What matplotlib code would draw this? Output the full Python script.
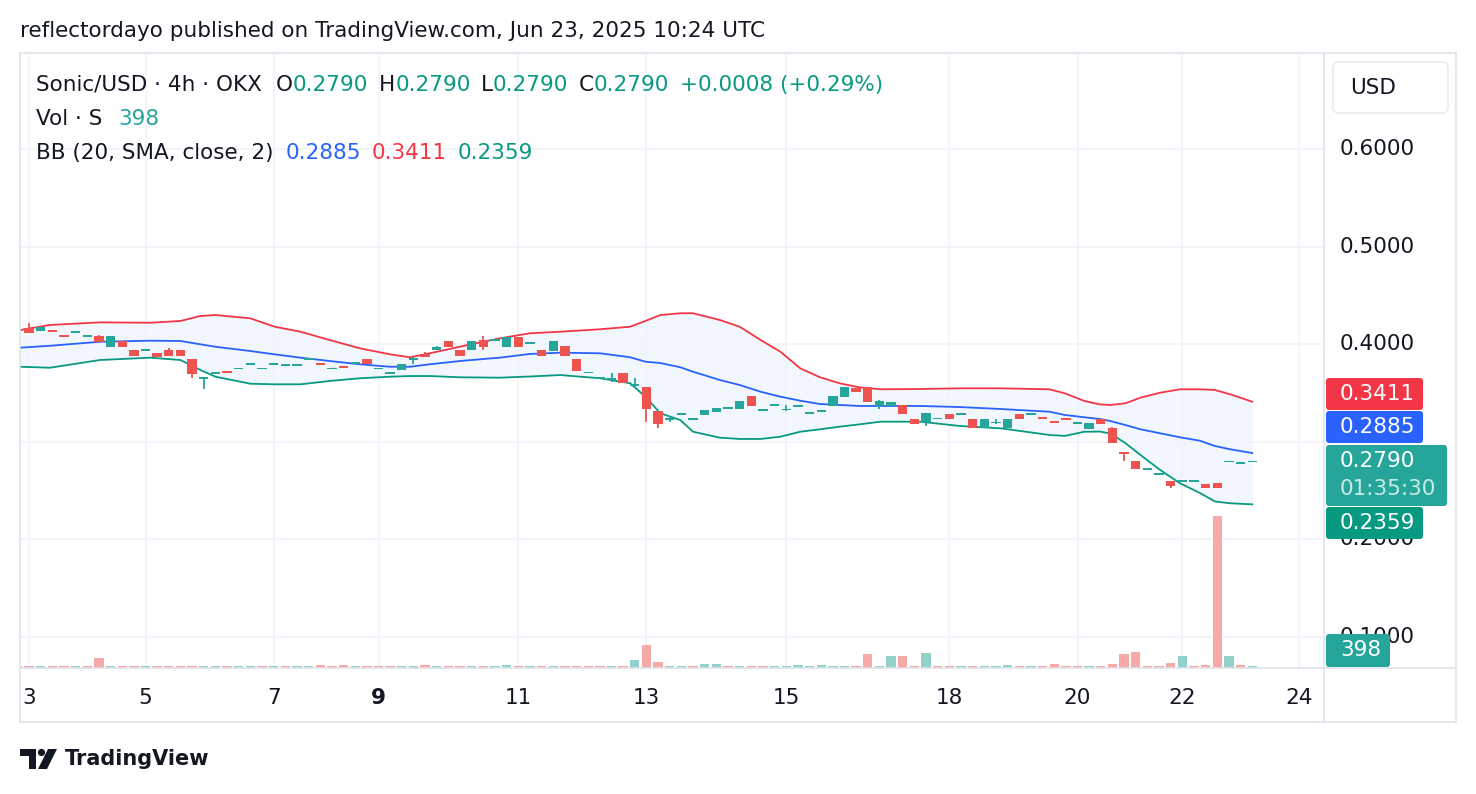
import matplotlib.pyplot as plt
from matplotlib.patches import FancyBboxPatch, Polygon, Circle
import numpy as np

# ---------------- data (Sonic/USD 4h, OKX) ----------------
opens = [0.4140, 0.4169, 0.4138, 0.4145, 0.4094, 0.4117, 0.4077, 0.4084, 0.3974, 0.4035,
         0.3940, 0.3933, 0.3909, 0.3943, 0.3943, 0.3848, 0.3646, 0.3694, 0.3725, 0.3742,
         0.3786, 0.3742, 0.3786, 0.3779, 0.3779, 0.3841, 0.3807, 0.3742, 0.3773, 0.3800,
         0.3848, 0.3742, 0.3697, 0.3738, 0.3841, 0.3899, 0.3937, 0.4032, 0.3940, 0.3937,
         0.4043, 0.4035, 0.3974, 0.4070, 0.4005, 0.3940, 0.3933, 0.3981, 0.3848, 0.3701,
         0.3646, 0.3633, 0.3707, 0.3571, 0.3564, 0.3315, 0.3226, 0.3279, 0.3226, 0.3276,
         0.3308, 0.3338, 0.3336, 0.3469, 0.3318, 0.3370, 0.3322, 0.3359, 0.3287, 0.3301,
         0.3369, 0.3461, 0.3547, 0.3558, 0.3369, 0.3366, 0.3376, 0.3233, 0.3205, 0.3230,
         0.3281, 0.3277, 0.3233, 0.3138, 0.3189, 0.3138, 0.3284, 0.3277, 0.3250, 0.3212,
         0.3240, 0.3185, 0.3130, 0.3233, 0.3141, 0.2892, 0.2802, 0.2714, 0.2659, 0.2597,
         0.2590, 0.2590, 0.2567, 0.2577, 0.2788, 0.2775, 0.2790]
highs = [0.4145, 0.4214, 0.4173, 0.4145, 0.4094, 0.4135, 0.4094, 0.4097, 0.4084, 0.4035,
         0.3940, 0.3950, 0.3909, 0.3961, 0.3943, 0.3848, 0.3663, 0.3711, 0.3725, 0.3759,
         0.3804, 0.3759, 0.3804, 0.3793, 0.3793, 0.3855, 0.3807, 0.3756, 0.3773, 0.3810,
         0.3848, 0.3756, 0.3711, 0.3793, 0.3871, 0.3920, 0.3981, 0.4032, 0.3940, 0.4032,
         0.4084, 0.4050, 0.4070, 0.4070, 0.4019, 0.3940, 0.4032, 0.3981, 0.3848, 0.3715,
         0.3660, 0.3707, 0.3707, 0.3650, 0.3564, 0.3315, 0.3267, 0.3294, 0.3240, 0.3325,
         0.3346, 0.3356, 0.3417, 0.3469, 0.3336, 0.3387, 0.3376, 0.3376, 0.3305, 0.3325,
         0.3469, 0.3558, 0.3547, 0.3558, 0.3428, 0.3404, 0.3376, 0.3233, 0.3291, 0.3246,
         0.3281, 0.3291, 0.3233, 0.3233, 0.3233, 0.3233, 0.3284, 0.3294, 0.3250, 0.3212,
         0.3240, 0.3202, 0.3192, 0.3233, 0.3154, 0.2892, 0.2802, 0.2731, 0.2676, 0.2597,
         0.2607, 0.2607, 0.2567, 0.2577, 0.2802, 0.2782, 0.2790]
lows = [0.4140, 0.4117, 0.4138, 0.4128, 0.4077, 0.4117, 0.4077, 0.4019, 0.3974, 0.3974,
        0.3882, 0.3933, 0.3871, 0.3882, 0.3882, 0.3656, 0.3543, 0.3694, 0.3707, 0.3742,
        0.3786, 0.3742, 0.3786, 0.3779, 0.3779, 0.3841, 0.3789, 0.3742, 0.3759, 0.3800,
        0.3793, 0.3742, 0.3697, 0.3738, 0.3800, 0.3868, 0.3937, 0.3974, 0.3882, 0.3937,
        0.3940, 0.4035, 0.3974, 0.3974, 0.4005, 0.3882, 0.3933, 0.3882, 0.3728, 0.3701,
        0.3646, 0.3615, 0.3605, 0.3547, 0.3205, 0.3144, 0.3199, 0.3279, 0.3226, 0.3276,
        0.3308, 0.3338, 0.3336, 0.3366, 0.3318, 0.3370, 0.3315, 0.3359, 0.3287, 0.3301,
        0.3369, 0.3461, 0.3513, 0.3410, 0.3332, 0.3366, 0.3281, 0.3185, 0.3164, 0.3230,
        0.3230, 0.3277, 0.3144, 0.3138, 0.3181, 0.3138, 0.3230, 0.3277, 0.3233, 0.3195,
        0.3223, 0.3185, 0.3130, 0.3181, 0.2990, 0.2802, 0.2723, 0.2714, 0.2659, 0.2522,
        0.2590, 0.2590, 0.2529, 0.2529, 0.2788, 0.2775, 0.2790]
closes = [0.4145, 0.4117, 0.4173, 0.4128, 0.4077, 0.4135, 0.4094, 0.4019, 0.4084, 0.3974,
          0.3882, 0.3950, 0.3871, 0.3882, 0.3882, 0.3697, 0.3663, 0.3711, 0.3707, 0.3759,
          0.3804, 0.3759, 0.3804, 0.3793, 0.3793, 0.3855, 0.3789, 0.3756, 0.3759, 0.3810,
          0.3793, 0.3756, 0.3711, 0.3793, 0.3855, 0.3868, 0.3968, 0.3974, 0.3882, 0.4032,
          0.3974, 0.4050, 0.4070, 0.3974, 0.4019, 0.3882, 0.4032, 0.3882, 0.3728, 0.3715,
          0.3660, 0.3646, 0.3605, 0.3588, 0.3335, 0.3181, 0.3243, 0.3294, 0.3240, 0.3325,
          0.3346, 0.3356, 0.3417, 0.3366, 0.3336, 0.3387, 0.3336, 0.3376, 0.3305, 0.3325,
          0.3469, 0.3558, 0.3513, 0.3410, 0.3417, 0.3404, 0.3281, 0.3185, 0.3291, 0.3246,
          0.3230, 0.3291, 0.3144, 0.3233, 0.3205, 0.3233, 0.3230, 0.3294, 0.3233, 0.3195,
          0.3223, 0.3202, 0.3192, 0.3181, 0.2990, 0.2874, 0.2723, 0.2731, 0.2676, 0.2549,
          0.2607, 0.2607, 0.2529, 0.2529, 0.2802, 0.2782, 0.2790]
volumes = [450, 450, 450, 450, 450, 450, 450, 2000, 450, 450,
           450, 450, 450, 450, 450, 450, 450, 450, 450, 450,
           450, 450, 450, 450, 450, 450, 650, 450, 650, 450,
           450, 450, 450, 450, 450, 650, 450, 450, 450, 450,
           450, 450, 650, 450, 450, 450, 450, 450, 450, 450,
           450, 450, 450, 1650, 4600, 1250, 450, 400, 400, 800,
           800, 400, 400, 400, 400, 400, 400, 600, 400, 600,
           400, 400, 400, 2800, 400, 2400, 2400, 400, 3000, 400,
           400, 400, 400, 400, 400, 600, 400, 400, 400, 800,
           400, 400, 400, 400, 800, 2800, 3200, 400, 400, 1000,
           2400, 400, 600, 30400, 2400, 600, 398]
vol_dir = ("ududduddud" "dudddduudu" "ududuudddu" "ddduududdu" "duudududdd"
           "dududduudu" "ududduuuuu" "uudduuddud" "duduuududd" "dduddddddd" "udddudu")

# Bollinger Bands (20, SMA, close, 2) at these bar positions
bb_pos = [0.2, 2.8, 7.1, 11.4, 14.0, 15.7, 17.0, 20.0, 22.1, 24.3,
          26.8, 29.4, 32.0, 33.7, 35.4, 38.0, 41.4, 44.0, 46.6, 50.0,
          52.6, 53.9, 55.2, 56.9, 58.0, 60.3, 62.0, 63.8, 65.5, 67.2,
          68.9, 70.6, 72.3, 74.1, 77.5, 80.9, 84.4, 88.6, 89.9, 91.6,
          92.9, 93.8, 95.1, 96.4, 98.1, 99.8, 101.5, 102.8, 104.1, 106.0]
bb_upper = [0.4145, 0.4197, 0.4224, 0.4220, 0.4238, 0.4289, 0.4299, 0.4265, 0.4179, 0.4128,
            0.4043, 0.3958, 0.3896, 0.3866, 0.3907, 0.3975, 0.4060, 0.4112, 0.4128, 0.4153,
            0.4179, 0.4238, 0.4299, 0.4317, 0.4317, 0.4248, 0.4179, 0.4043, 0.3923, 0.3753,
            0.3661, 0.3599, 0.3558, 0.3538, 0.3541, 0.3548, 0.3548, 0.3538, 0.3497, 0.3418,
            0.3384, 0.3377, 0.3394, 0.3452, 0.3503, 0.3538, 0.3538, 0.3531, 0.3487, 0.3411]
bb_basis = [0.3964, 0.3984, 0.4025, 0.4036, 0.4033, 0.3999, 0.3974, 0.3930, 0.3896, 0.3862,
            0.3828, 0.3794, 0.3769, 0.3769, 0.3794, 0.3828, 0.3862, 0.3900, 0.3913, 0.3907,
            0.3866, 0.3821, 0.3807, 0.3764, 0.3718, 0.3633, 0.3582, 0.3513, 0.3462, 0.3421,
            0.3387, 0.3377, 0.3367, 0.3367, 0.3367, 0.3356, 0.3336, 0.3308, 0.3275, 0.3251,
            0.3234, 0.3213, 0.3172, 0.3128, 0.3087, 0.3046, 0.3011, 0.2957, 0.2923, 0.2885]
bb_lower = [0.3769, 0.3759, 0.3838, 0.3862, 0.3838, 0.3736, 0.3667, 0.3595, 0.3589, 0.3589,
            0.3623, 0.3651, 0.3667, 0.3674, 0.3674, 0.3661, 0.3657, 0.3669, 0.3684, 0.3651,
            0.3600, 0.3462, 0.3292, 0.3223, 0.3103, 0.3042, 0.3029, 0.3029, 0.3052, 0.3103,
            0.3128, 0.3155, 0.3179, 0.3206, 0.3206, 0.3162, 0.3138, 0.3070, 0.3060, 0.3103,
            0.3105, 0.3085, 0.2988, 0.2865, 0.2711, 0.2575, 0.2476, 0.2388, 0.2370, 0.2359]

day_labels = ['3', '5', '7', '9', '11', '13', '15', '18', '20', '22', '24']
day_bars = [1, 11, 22, 31, 43, 54, 66, 80, 91, 100, 110]
price_ticks = [0.1, 0.2, 0.3, 0.4, 0.5, 0.6]
hidden_tick_labels = [0.3]   # covered by the price badges on TradingView

# ---------------- style ----------------
UP, DOWN = '#26a69a', '#ef5350'
VOL_UP, VOL_DOWN = '#93d2cb', '#f7a9a7'
TXT = '#131722'
LINE = '#e0e3eb'
GRID = '#f0f3fa'
FS = 15.5

W, H = 1476, 794
fig = plt.figure(figsize=(W / 100, H / 100), dpi=100)
fig.patch.set_facecolor('white')

pl, pr, pt, pb = 20, 1324, 53, 668
rect = [pl / W, 1 - pb / H, (pr - pl) / W, (pb - pt) / H]
ax = fig.add_axes(rect)
axv = fig.add_axes(rect, sharex=ax)
axr = fig.add_axes([pr / W, 1 - pb / H, (1456 - pr) / W, (pb - pt) / H])

step = 11.65
ax.set_xlim((pl - 17.35) / step, (pr - 17.35) / step)
ax.set_ylim(0.0682, 0.6984)
axr.set_ylim(0.0682, 0.6984)
axr.set_xlim(0, 1456 - pr)
axv.set_ylim(0, 123000)

for a in (ax, axv, axr):
    for s in a.spines.values():
        s.set_visible(False)
    a.tick_params(length=0, labelleft=False, labelbottom=False)
axr.axis('off')
axv.patch.set_alpha(0)
axv.set_yticks([])

ax.set_yticks(price_ticks)
ax.set_xticks(day_bars)
ax.grid(True, color=GRID, linewidth=1.2)

# Bollinger bands
ax.fill_between(bb_pos, bb_lower, bb_upper, color='#f2f7fd', linewidth=0)
ax.plot(bb_pos, bb_upper, color='#f23645', linewidth=1.3)
ax.plot(bb_pos, bb_basis, color='#2962ff', linewidth=1.3)
ax.plot(bb_pos, bb_lower, color='#089981', linewidth=1.3)

# candles
idx = np.arange(len(closes))
o = np.array(opens)
c = np.array(closes)
ccol = np.where(c >= o, UP, DOWN)
ax.vlines(idx, lows, highs, colors=ccol, linewidth=1.3, zorder=3)
ax.bar(idx, np.maximum(np.abs(c - o), 0.0016), bottom=np.minimum(o, c),
       width=0.8, color=ccol, linewidth=0, zorder=4)

# volume
vcol = [VOL_UP if d == 'u' else VOL_DOWN for d in vol_dir]
axv.bar(idx, volumes, width=0.8, color=vcol, linewidth=0)

# right price scale labels
for v in price_ticks:
    if v in hidden_tick_labels:
        continue
    axr.text(16, v, f'{v:.4f}', va='center', ha='left', fontsize=FS, color=TXT)

# time axis labels
for b, lab in zip(day_bars, day_labels):
    ax.text(b, -0.049, lab, transform=ax.get_xaxis_transform(), ha='center', va='center',
            fontsize=FS, color=TXT, fontweight='bold' if lab == '9' else 'normal')

# ---------------- overlay in pixel coordinates ----------------
ov = fig.add_axes([0, 0, 1, 1], zorder=10)
ov.set_xlim(0, W)
ov.set_ylim(H, 0)
ov.axis('off')
ov.patch.set_alpha(0)

for xs, ys in [([pl, 1456], [pt, pt]), ([pl, 1456], [pb, pb]), ([pl, 1456], [722, 722]),
               ([pr, pr], [pt, 722]), ([1456, 1456], [pt, 722]), ([pl, pl], [pt, 722])]:
    ov.plot(xs, ys, color=LINE, linewidth=1.2)

ov.add_patch(FancyBboxPatch((1333, 62), 115, 51, boxstyle='round,pad=0,rounding_size=6',
                            fc='white', ec='#e6e8ee', lw=1))
ov.text(1350, 88, 'USD', fontsize=FS, color=TXT, va='center', ha='left')


def badge(y0, h, w, color, lines):
    ov.add_patch(FancyBboxPatch((1326, y0), w, h, boxstyle='round,pad=0,rounding_size=3',
                                fc=color, ec='none'))
    for k, (s, tc) in enumerate(lines):
        ov.text(1340, y0 + 16 + k * 28, s, color=tc, fontsize=FS, va='center', ha='left')


badge(378, 32, 97, '#f23645', [('0.3411', 'white')])
badge(411, 32, 97, '#2962ff', [('0.2885', 'white')])
badge(445, 61, 121, '#26a69a', [('0.2790', 'white'), ('01:35:30', '#c9ebe6')])
badge(507, 32, 97, '#089981', [('0.2359', 'white')])
badge(634, 33, 64, '#26a69a', [('398', 'white')])

# legend lines
renderer = fig.canvas.get_renderer()


def parts(x, y, segs):
    for s, col in segs:
        t = ov.text(x, y, s, color=col, fontsize=FS, va='center', ha='left')
        x += t.get_window_extent(renderer).width


G = '#089981'
parts(36, 85, [('Sonic/USD · 4h · OKX', TXT)])
parts(276, 85, [('O', TXT), ('0.2790', G)])
parts(379, 85, [('H', TXT), ('0.2790', G)])
parts(481, 85, [('L', TXT), ('0.2790', G)])
parts(579, 85, [('C', TXT), ('0.2790', G)])
parts(680, 85, [('+0.0008 (+0.29%)', G)])
parts(36, 119, [('Vol · S', TXT)])
parts(118, 119, [('398', '#26a69a')])
parts(36, 153, [('BB (20, SMA, close, 2)', TXT)])
parts(286, 153, [('0.2885', '#2962ff')])
parts(372, 153, [('0.3411', '#f23645')])
parts(458, 153, [('0.2359', '#089981')])

ov.text(20, 31, 'reflectordayo published on TradingView.com, Jun 23, 2025 10:24 UTC',
        fontsize=FS, color=TXT, va='center', ha='left')

# TradingView logo
ov.add_patch(Polygon([(20, 749), (36, 749), (36, 769), (29, 769), (29, 756), (20, 756)],
                     closed=True, fc=TXT, ec='none'))
ov.add_patch(Circle((41.5, 752.5), 3.6, fc=TXT, ec='none'))
ov.add_patch(Polygon([(38, 769), (47, 769), (57, 749), (48, 749)], closed=True, fc=TXT, ec='none'))
ov.text(65, 759, 'TradingView', fontsize=15, color=TXT, va='center', ha='left', fontweight='bold')

fig.savefig('out.png', dpi=100, facecolor='white')
